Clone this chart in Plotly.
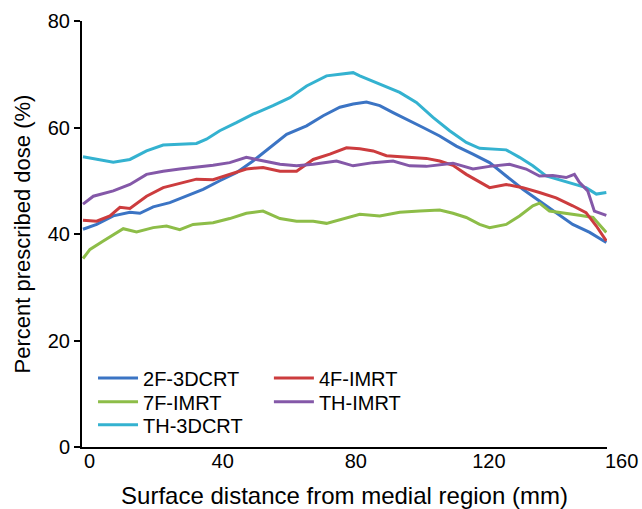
import plotly.graph_objects as go

# ---- data ----
x_2f = [-2, 2.1, 7.1, 12.1, 15.1, 19.1, 24.1, 29.1, 34.1, 39.1, 44.1, 49.1, 54.1, 59.2, 65.2, 70.2, 75.2, 79.2,
        83.2, 87.2, 91.2, 95.2, 100.2, 105.2, 110.2, 115.2, 120.2, 125.2, 130.2, 135.2, 140.2, 145.2, 150.3, 155.3]
y_2f = [40.9, 41.8, 43.4, 44.1, 43.9, 45.1, 45.9, 47.1, 48.4, 50.0, 51.5, 53.7, 56.2, 58.7, 60.3, 62.2, 63.8, 64.4,
        64.8, 64.1, 62.8, 61.6, 60.0, 58.4, 56.5, 55.0, 53.4, 50.9, 48.4, 46.2, 44.0, 41.8, 40.3, 38.4]

x_7f = [-2, 0.1, 4.1, 10.1, 14.1, 19.1, 23.1, 27.1, 31.1, 37.1, 42.1, 47.1, 52.1, 57.2, 62.2, 67.2, 71.2, 76.2,
        81.2, 87.2, 93.2, 99.2, 105.2, 109.2, 113.2, 117.2, 120.2, 125.2, 129.2, 133.2, 135.2, 138.2, 143.2, 147.2,
        151.3, 155.3]
y_7f = [35.4, 37.1, 38.7, 41.0, 40.4, 41.2, 41.5, 40.8, 41.8, 42.1, 42.9, 43.9, 44.3, 42.9, 42.4, 42.4, 42.0, 42.8,
        43.7, 43.4, 44.1, 44.3, 44.5, 43.9, 43.1, 41.8, 41.2, 41.8, 43.4, 45.3, 45.8, 44.3, 43.9, 43.5,
        43.1, 40.3]

x_th3 = [-2, 7.1, 12.1, 17.1, 22.1, 27.1, 32.1, 35.1, 39.1, 44.1, 49.1, 55.1, 60.2, 65.2, 71.2, 75.2, 79.2, 81.2,
         87.2, 93.2, 98.2, 103.2, 108.2, 113.2, 117.2, 125.2, 129.2, 133.2, 137.2, 143.2, 149.2, 152.3, 155.3]
y_th3 = [54.5, 53.5, 54.0, 55.6, 56.7, 56.9, 57.0, 57.8, 59.4, 60.9, 62.5, 64.1, 65.6, 67.8, 69.7, 70.0, 70.3, 69.7,
         68.1, 66.6, 64.7, 61.9, 59.4, 57.2, 56.1, 55.8, 54.4, 52.8, 50.9, 49.8, 48.7, 47.5, 47.8]

x_4f = [-2, 2.1, 6.1, 9.1, 12.1, 17.1, 22.1, 27.1, 32.1, 37.1, 42.1, 47.1, 52.1, 57.2, 62.2, 67.2, 72.2, 77.2,
        81.2, 85.2, 89.2, 95.2, 101.2, 105.2, 109.2, 113.2, 117.2, 120.2, 125.2, 130.2, 135.2, 140.2, 145.2,
        149.2, 152.3, 155.3]
y_4f = [42.6, 42.4, 43.4, 45.0, 44.8, 47.1, 48.7, 49.5, 50.3, 50.2, 51.2, 52.2, 52.5, 51.8, 51.8, 54.0, 55.0, 56.2,
        56.0, 55.6, 54.7, 54.4, 54.2, 53.7, 52.9, 51.2, 49.7, 48.7, 49.3, 48.7, 47.8, 46.8, 45.3,
        44.0, 41.5, 38.7]

x_thi = [-2, 1.1, 7.1, 12.1, 17.1, 22.1, 27.1, 32.1, 37.1, 42.1, 47.1, 50.1, 57.2, 62.2, 67.2, 74.2, 79.2, 85.2,
         91.2, 96.2, 101.2, 109.2, 115.2, 120.2, 126.2, 131.2, 135.2, 139.2, 143.2, 145.7, 147.2, 149.7, 151.7, 155.3]
y_thi = [45.6, 47.1, 48.1, 49.3, 51.2, 51.8, 52.2, 52.5, 52.9, 53.4, 54.4, 54.0, 53.1, 52.8, 53.1, 53.7, 52.8, 53.4,
         53.7, 52.8, 52.7, 53.3, 52.2, 52.7, 53.1, 52.2, 50.9, 51.0, 50.6, 51.2, 49.7, 48.1, 44.3, 43.5]

y_ticks = [0, 20, 40, 60, 80]
x_ticks = [0, 40, 80, 120]
x_last_tick = 160
x_range = [-2.3, 155.5]

FONT = "Liberation Sans, Arial, sans-serif"

fig = go.Figure()

series = [
    (x_2f, y_2f, "2F-3DCRT", "#3b74c4", "legend", 0.021, 0.162),
    (x_7f, y_7f, "7F-IMRT", "#8dbd48", "legend2", 0.021, 0.106),
    (x_th3, y_th3, "TH-3DCRT", "#34b2d0", "legend3", 0.021, 0.052),
    (x_4f, y_4f, "4F-IMRT", "#cc3c3e", "legend4", 0.356, 0.162),
    (x_thi, y_thi, "TH-IMRT", "#8458a8", "legend5", 0.356, 0.106),
]

legends = {}
for x, y, name, color, lg, lx, ly in series:
    fig.add_trace(go.Scatter(x=x, y=y, name=name, mode="lines", showlegend=True,
                             line=dict(color=color, width=3), legend=lg))
    legends[lg] = dict(x=lx, y=ly, xanchor="left", yanchor="middle", visible=True,
                       font=dict(family=FONT, size=20, color="black"),
                       bgcolor="rgba(0,0,0,0)", itemwidth=40)

fig.update_layout(
    width=642, height=509,
    showlegend=True,
    margin=dict(l=82, r=35, t=21, b=62),
    paper_bgcolor="white", plot_bgcolor="white",
    font=dict(family=FONT, size=20, color="black"),
    xaxis=dict(range=x_range, tickvals=x_ticks, showgrid=False, zeroline=False,
               showline=True, linecolor="black", linewidth=2, ticks="",
               tickfont=dict(size=20), automargin=False, ticklabelstandoff=-5,
               title=dict(text="Surface distance from medial region (mm)", font=dict(size=24), standoff=16)),
    yaxis=dict(range=[0, 80], tickvals=y_ticks, showgrid=False, zeroline=False,
               showline=True, linecolor="black", linewidth=2, ticks="outside", ticklen=6,
               tickwidth=2, tickcolor="black", tickfont=dict(size=20), automargin=False,
               title=dict(text="Percent prescribed dose (%)", font=dict(size=22), standoff=11)),
    **legends,
)

fig.add_annotation(x=(x_last_tick - x_range[0]) / (x_range[1] - x_range[0]), y=0,
                   xref="paper", yref="paper", text=str(x_last_tick), xanchor="center",
                   showarrow=False, yanchor="top", yshift=-1, font=dict(size=20, family=FONT))

fig.write_html("out.html", config={"displayModeBar": False},
               post_script="document.body.style.margin='0';document.body.style.overflow='hidden';")
